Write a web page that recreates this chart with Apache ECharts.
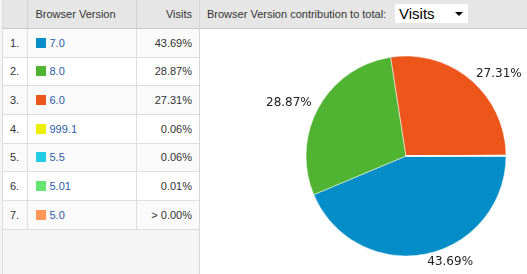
<!DOCTYPE html>
<html>
<head>
<meta charset="utf-8">
<script src="https://cdn.jsdelivr.net/npm/echarts@6/dist/echarts.min.js"></script>
<style>
	body { margin: 0; width: 527px; height: 274px; overflow: hidden; background: #fff; font-family: Arial, "Liberation Sans", sans-serif; }
	#left { position: absolute; left: 0; top: 0; width: 199px; height: 274px; background: #f5f5f5; border-right: 1px solid #d6d6d6; }
	#left .edge { position: absolute; left: 2px; top: 0; width: 1px; height: 274px; background: #dcdcdc; }
	table { position: absolute; left: 3px; top: 0; width: 196px; border-collapse: collapse; font-size: 11px; color: #333; }
	th { height: 28px; background: #e6e6e6; font-weight: normal; border-bottom: 1px solid #c8c8c8; border-left: 1px solid #d2d2d2; padding: 0; }
	td { height: 27.67px; border-bottom: 1px solid #dedede; border-left: 1px solid #dedede; padding: 0; background: #fff; }
	tr:nth-child(even) td { background: #fafafa; }
	th:first-child, td:first-child { border-left: none; width: 24px; }
	.rank { text-align: left; padding-left: 7px; box-sizing: border-box; }
	.ver { padding-left: 8px; text-align: left; }
	.vis { text-align: right; padding-right: 7px; width: 55px; }
	.sw { display: inline-block; width: 10px; height: 10px; margin-right: 4px; vertical-align: -1px; }
	.ver a { color: #2d5ea6; text-decoration: none; }
	#head { position: absolute; left: 200px; top: 0; width: 327px; height: 28px; background: #e6e6e6; border-bottom: 1px solid #c8c8c8; }
	#head .t { position: absolute; left: 7px; top: 8px; font-size: 11px; color: #333; }
	#sel { position: absolute; left: 195px; top: 4px; width: 73px; height: 19px; background: #fff; }
	#sel .v { position: absolute; left: 4px; top: 1px; font-size: 15px; color: #000; }
	#sel .a { position: absolute; left: 60px; top: 8px; width: 0; height: 0; border-left: 4px solid transparent; border-right: 4px solid transparent; border-top: 4px solid #000; }
	#chart { position: absolute; left: 200px; top: 29px; width: 327px; height: 245px; }
</style>
</head>
<body>
<div id="left"><div class="edge"></div><table id="tbl"></table></div>
<div id="head"><span class="t">Browser Version contribution to total:</span><div id="sel"><span class="v">Visits</span><span class="a"></span></div></div>
<div id="chart"></div>
<script>
const versions = ["7.0", "8.0", "6.0", "999.1", "5.5", "5.01", "5.0"]
const shares = [43.69, 28.87, 27.31, 0.06, 0.06, 0.01, 0.004]
const shareLabels = ["43.69%", "28.87%", "27.31%", "0.06%", "0.06%", "0.01%", "> 0.00%"]
const colors = ["#058DC7", "#50B432", "#ED561B", "#EDEF00", "#24CBE5", "#64E572", "#FF9655"]

// table on the left
let html = '<tr><th class="rank"></th><th class="ver">Browser Version</th><th class="vis">Visits</th></tr>'
versions.forEach((v, i) => {
	html += '<tr><td class="rank">' + (i + 1) + '.</td>' +
		'<td class="ver"><span class="sw" style="background:' + colors[i] + '"></span><a>' + v + '</a></td>' +
		'<td class="vis">' + shareLabels[i] + '</td></tr>'
})
document.getElementById("tbl").innerHTML = html

let pieChart = echarts.init(document.getElementById("chart"))
let option = {
	animation: false,
	color: colors,
	series: [
		{
			type: "pie",
			center: [206, 127],
			radius: 100,
			startAngle: 0,
			clockwise: true,
			avoidLabelOverlap: false,
			minShowLabelAngle: 5,
			itemStyle: {
				borderColor: "#fff",
				borderWidth: 0.5,
			},
			label: {
				position: "outside",
				color: "#222",
				fontSize: 12,
				fontFamily: "DejaVu Sans",
				distanceToLabelLine: 0,
				formatter: function(p) {
					return shareLabels[p.dataIndex]
				},
			},
			labelLine: {
				show: false,
				length: 8,
				length2: 0,
			},
			emphasis: { disabled: true },
			data: versions.map((v, i) => ({ name: v, value: shares[i] })),
		},
	],
}
pieChart.setOption(option)
</script>
</body>
</html>
